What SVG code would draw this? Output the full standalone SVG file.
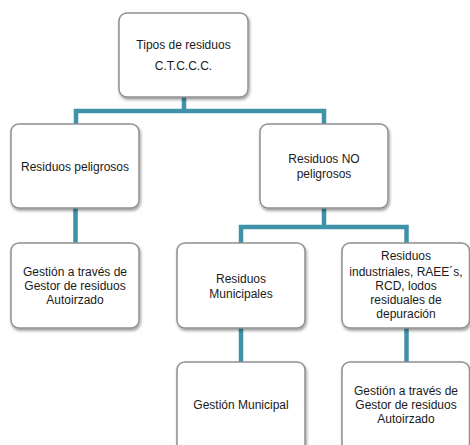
<svg xmlns="http://www.w3.org/2000/svg" width="470" height="445" viewBox="0 0 470 445">
<defs>
<filter id="sh" x="-10%" y="-10%" width="125%" height="130%">
<feDropShadow dx="1" dy="2" stdDeviation="1.5" flood-color="#000" flood-opacity="0.4"/>
</filter>
<style>
.box{fill:#fff;stroke:#909090;stroke-width:1.5;filter:url(#sh)}
.t{font-family:"Liberation Sans",Arial,sans-serif;font-size:12px;fill:#1a1a1a;text-anchor:middle}
.c{fill:none;stroke:#3f92a8;stroke-width:4.5;stroke-linejoin:miter}
</style>
</defs>
<rect width="470" height="445" fill="#fff"/>
<g id="connectors">
<path class="c" d="M184 97 V111 M76 124 V111 H324 V124"/>
<path class="c" d="M75.5 208 V243"/>
<path class="c" d="M324 208 V227 M241 243 V227 H406.5 V243"/>
<path class="c" d="M241 328 V362"/>
<path class="c" d="M406.5 328 V362"/>
</g>
<g id="n-root">
<rect class="box" x="119" y="13" width="129" height="84" rx="8"/>
<text class="t" x="183.5" y="49">Tipos de residuos</text>
<text class="t" x="183.5" y="69.5">C.T.C.C.C.</text>
</g>
<g id="n-peligrosos">
<rect class="box" x="11" y="124" width="128" height="84" rx="8"/>
<text class="t" x="75" y="170.5">Residuos peligrosos</text>
</g>
<g id="n-no-peligrosos">
<rect class="box" x="260" y="124" width="128" height="84" rx="8"/>
<text class="t" x="324" y="163">Residuos NO</text>
<text class="t" x="324" y="178">peligrosos</text>
</g>
<g id="n-gestor1">
<rect class="box" x="11" y="243" width="128" height="85" rx="8"/>
<text class="t" x="75" y="275.5">Gestión a través de</text>
<text class="t" x="75" y="289.8">Gestor de residuos</text>
<text class="t" x="75" y="304">Autoirzado</text>
</g>
<g id="n-municipales">
<rect class="box" x="177" y="243" width="128" height="85" rx="8"/>
<text class="t" x="241" y="283">Residuos</text>
<text class="t" x="241" y="297.5">Municipales</text>
</g>
<g id="n-industriales">
<rect class="box" x="342" y="243" width="127.5" height="85" rx="8"/>
<text class="t" x="406" y="260">Residuos</text>
<text class="t" x="406" y="275.5">industriales, RAEE´s,</text>
<text class="t" x="406" y="290">RCD, lodos</text>
<text class="t" x="406" y="304">residuales de</text>
<text class="t" x="406" y="318.3">depuración</text>
</g>
<g id="n-gestion-municipal">
<rect class="box" x="177" y="362" width="128" height="90" rx="8"/>
<text class="t" x="241" y="409">Gestión Municipal</text>
</g>
<g id="n-gestor2">
<rect class="box" x="342" y="362" width="127.5" height="90" rx="8"/>
<text class="t" x="406" y="394.7">Gestión a través de</text>
<text class="t" x="406" y="409">Gestor de residuos</text>
<text class="t" x="406" y="423.3">Autoirzado</text>
</g>
</svg>
